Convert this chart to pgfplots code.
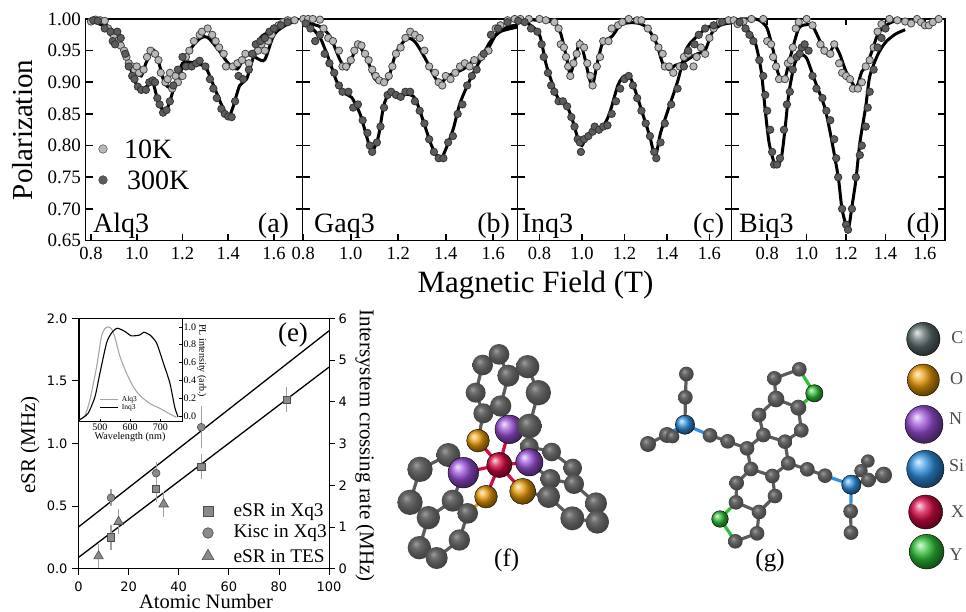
\documentclass[border=0pt]{standalone}
\usepackage{pgfplots}
\pgfplotsset{compat=1.18}
\usepackage{fontspec}
\setmainfont{Liberation Serif}
\newfontfamily\djv{DejaVu Sans}
\newcommand{\fs}[1]{\fontsize{#1}{#1}\selectfont}
\definecolor{cten}{HTML}{B8B8B8}
\definecolor{cthr}{HTML}{5C5C5C}
\definecolor{mk}{HTML}{8A8A8A}
\definecolor{bar}{HTML}{A0A0A0}
\definecolor{bg}{HTML}{5C5C5C}
\definecolor{bgt}{HTML}{5E6E6E}
\definecolor{bo}{HTML}{E89A08}
\definecolor{bn}{HTML}{9A50D8}
\definecolor{bs}{HTML}{3090E0}
\definecolor{bx}{HTML}{D80844}
\definecolor{by}{HTML}{30C038}
\pgfdeclareradialshading{greyball}{\pgfpoint{-8bp}{9bp}}{color(0bp)=(black!38!white); color(9bp)=(black!58!white); color(18bp)=(black!68!white); color(30bp)=(black!76!white); color(50bp)=(black!85!white)}
\pgfdeclareplotmark{gball}{\pgfpathcircle{\pgfpointorigin}{\pgfplotmarksize}\pgfshadepath{greyball}{0}\pgfusepath{discard}}
\pgfplotsset{
 panel/.style={scale only axis, height=221.5pt, ymin=.65, ymax=1,
  ytick={.65,.7,.75,.8,.85,.9,.95,1}, yticklabels={},
  xtick={.8,1,1.2,1.4,1.6}, xticklabels={0.8,1.0,1.2,1.4,1.6},
  xtick align=inside, ytick align=inside, major tick length=0pt,
  tick style={black, line width=1.3pt},
  axis line style={black, line width=1.5pt},
  xtick pos=bottom, ytick pos=both,
  clip=false,
  x tick label style={font=\fs{18.5}, yshift=-3.5pt},
  y tick label style={font=\fs{19}, xshift=-1pt},
  anchor=south west},
 dten/.style={only marks, mark=*, mark size=3.7pt, mark options={fill=cten, draw=black!72, line width=.8pt}},
 dthr/.style={only marks, mark=*, mark size=3.7pt, mark options={fill=cthr, draw=black!80, line width=.8pt}},
 fit/.style={no marks, smooth, tension=.45, black, line width=3pt},
 mol/.style={scale only axis, hide axis, clip=false, y dir=reverse, anchor=south west},
 ebar/.style={error bars/.cd, y dir=both, y explicit, error mark=none,
   error bar style={bar, line width=1.3pt}},
 b bg/.style={mark=gball}, b bgt/.style={mark=ball, ball color=bgt},
 b bo/.style={mark=ball, ball color=bo}, b bn/.style={mark=ball, ball color=bn},
 b bs/.style={mark=ball, ball color=bs}, b bx/.style={mark=ball, ball color=bx},
 b by/.style={mark=ball, ball color=by},
}
\newcommand{\B}[4]{\addplot[only marks, b #4, mark size=#3/3] coordinates {(#1,#2)};}
\newcommand{\Bd}[2]{\addplot[no marks, line width=3.2pt, color=#1] coordinates {#2};}
\newcommand{\pticks}[2]{%
 \pgfplotsinvokeforeach{.7,.75,.8,.85,.9,.95}{%
  \draw[black, line width=1.6pt] (axis cs:#1,##1) -- ++(7pt,0pt);
  \draw[black, line width=1.6pt] (axis cs:#2,##1) -- ++(-7pt,0pt);}%
 \pgfplotsinvokeforeach{.8,1,1.2,1.4,1.6}{%
  \draw[black, line width=1.6pt] (axis cs:##1,.65) -- ++(0pt,6pt);}%
}
\begin{document}
\begin{tikzpicture}[x=1pt,y=1pt]
\path[use as bounding box] (0,0) rectangle (966,612);
% ---------- (a)
\begin{axis}[panel, at={(85.5pt,371.5pt)}, width=217pt, xmin=.776, xmax=1.7246,
  yticklabels={0.65,0.70,0.75,0.80,0.85,0.90,0.95,1.00}]
\pticks{.776}{1.7246}
\addplot[dten] coordinates {(.80,.996)(.82,.999)(.84,.998)(.86,.997)(.875,.985)(.89,.978)(.90,.974)(.915,.965)(.93,.958)(.945,.95)(.955,.94)(.965,.93)(.98,.925)(.99,.92)(1.0,.925)(1.01,.915)(1.03,.92)(1.045,.94)(1.06,.95)(1.08,.945)(1.095,.935)(1.105,.915)(1.125,.90)(1.135,.905)(1.145,.915)(1.155,.89)(1.17,.91)(1.18,.90)(1.2,.91)(1.215,.94)(1.23,.95)(1.25,.965)(1.275,.975)(1.285,.98)(1.31,.985)(1.33,.975)(1.345,.965)(1.36,.955)(1.38,.945)(1.39,.925)(1.42,.925)(1.44,.93)(1.46,.935)(1.475,.945)(1.49,.93)(1.51,.945)(1.53,.95)(1.545,.96)(1.56,.95)(1.575,.965)(1.59,.975)(1.6,.985)(1.62,.99)(1.64,.995)(1.66,.998)(1.69,.998)};
\addplot[dthr] coordinates {(.81,.998)(.83,.997)(.86,.985)(.885,.98)(.895,.965)(.905,.96)(.915,.98)(.93,.97)(.95,.945)(.965,.925)(.98,.91)(.99,.905)(1.005,.893)(1.02,.888)(1.04,.888)(1.055,.90)(1.07,.903)(1.08,.90)(1.09,.875)(1.10,.865)(1.115,.852)(1.13,.856)(1.145,.87)(1.16,.895)(1.18,.92)(1.2,.94)(1.215,.925)(1.24,.925)(1.26,.93)(1.275,.934)(1.3,.925)(1.32,.905)(1.335,.89)(1.35,.875)(1.37,.858)(1.385,.85)(1.40,.846)(1.415,.845)(1.43,.87)(1.445,.91)(1.465,.905)(1.49,.92)(1.505,.945)(1.52,.96)(1.54,.965)(1.56,.97)(1.58,.98)(1.6,.985)(1.63,.99)(1.66,.995)};
\addplot[fit] coordinates {(.8,.998)(.85,.994)(.9,.98)(.93,.96)(.96,.935)(1.0,.915)(1.02,.91)(1.04,.93)(1.07,.951)(1.09,.94)(1.12,.90)(1.15,.891)(1.18,.90)(1.2,.925)(1.24,.955)(1.28,.97)(1.31,.971)(1.36,.95)(1.4,.93)(1.44,.921)(1.47,.94)(1.5,.944)(1.53,.937)(1.56,.936)(1.6,.975)(1.65,.99)(1.7,.997)};
\addplot[fit] coordinates {(.8,.997)(.85,.99)(.9,.98)(.93,.965)(.96,.935)(1.0,.895)(1.02,.889)(1.05,.895)(1.07,.90)(1.09,.875)(1.12,.852)(1.14,.865)(1.17,.90)(1.2,.93)(1.23,.932)(1.27,.928)(1.3,.925)(1.33,.90)(1.37,.865)(1.40,.845)(1.42,.86)(1.45,.895)(1.48,.905)(1.51,.94)(1.54,.97)(1.58,.98)(1.62,.99)(1.7,.997)};
\addplot[only marks, mark=*, mark size=4.3pt, mark options={fill=cten, draw=black!60, line width=.6pt}] coordinates {(.8525,.7946)};
\addplot[only marks, mark=*, mark size=4.3pt, mark options={fill=cthr, draw=black!70, line width=.6pt}] coordinates {(.8525,.7456)};
\end{axis}
% ---------- (b)
\begin{axis}[panel, at={(302.5pt,371.5pt)}, width=215pt, xmin=.7966, xmax=1.702]
\pticks{.7966}{1.702}
\addplot[dten] coordinates {(.80,1.0)(.82,1.0)(.84,1.0)(.87,.999)(.885,.985)(.905,.97)(.925,.965)(.95,.95)(.965,.925)(.98,.925)(1.0,.935)(1.015,.95)(1.03,.96)(1.045,.958)(1.06,.945)(1.075,.935)(1.09,.92)(1.105,.91)(1.12,.903)(1.14,.90)(1.16,.91)(1.175,.925)(1.19,.945)(1.21,.955)(1.23,.97)(1.25,.98)(1.27,.975)(1.29,.97)(1.31,.95)(1.33,.925)(1.355,.915)(1.37,.90)(1.385,.895)(1.4,.91)(1.42,.905)(1.44,.915)(1.46,.925)(1.48,.93)(1.5,.925)(1.52,.935)(1.55,.94)(1.58,.95)(1.61,.985)(1.63,.99)(1.66,.998)(1.69,1.0)};
\addplot[dthr] coordinates {(.81,.993)(.83,.985)(.85,.965)(.87,.975)(.89,.945)(.91,.93)(.93,.915)(.95,.895)(.965,.885)(.99,.885)(1.01,.86)(1.03,.865)(1.05,.84)(1.07,.82)(1.08,.80)(1.09,.79)(1.11,.805)(1.125,.83)(1.14,.86)(1.155,.88)(1.17,.885)(1.19,.88)(1.21,.877)(1.23,.885)(1.25,.885)(1.27,.87)(1.29,.855)(1.31,.835)(1.33,.81)(1.35,.79)(1.37,.78)(1.39,.78)(1.41,.805)(1.43,.815)(1.45,.85)(1.47,.865)(1.49,.895)(1.51,.91)(1.53,.92)(1.56,.945)(1.59,.975)(1.62,.985)(1.66,.995)};
\addplot[fit] coordinates {(.8,.995)(.87,.988)(.913,.972)(.955,.935)(.983,.921)(1.01,.943)(1.03,.959)(1.067,.938)(1.10,.906)(1.13,.90)(1.158,.906)(1.19,.946)(1.235,.969)(1.27,.964)(1.313,.938)(1.348,.912)(1.376,.898)(1.41,.91)(1.475,.921)(1.516,.934)(1.55,.936)(1.587,.959)(1.615,.977)(1.664,.988)(1.70,.99)};
\addplot[fit] coordinates {(.8,.99)(.83,.987)(.87,.971)(.906,.938)(.941,.901)(.976,.882)(1.004,.876)(1.04,.849)(1.067,.814)(1.088,.79)(1.116,.814)(1.138,.862)(1.158,.88)(1.187,.88)(1.207,.877)(1.236,.881)(1.27,.875)(1.306,.838)(1.34,.80)(1.376,.778)(1.404,.798)(1.432,.827)(1.46,.867)(1.502,.904)(1.545,.935)(1.587,.964)(1.63,.98)(1.70,.987)};
\end{axis}
% ---------- (c)
\begin{axis}[panel, at={(517.5pt,371.5pt)}, width=214.2pt, xmin=.6965, xmax=1.705]
\pticks{.6965}{1.705}
\addplot[dten] coordinates {(.71,1.0)(.75,1.0)(.80,1.0)(.83,.998)(.87,.995)(.89,.985)(.90,.96)(.915,.955)(.925,.94)(.935,.925)(.945,.91)(.96,.93)(.975,.945)(.99,.96)(1.01,.955)(1.025,.93)(1.04,.91)(1.05,.895)(1.07,.925)(1.085,.94)(1.10,.965)(1.125,.965)(1.14,.985)(1.17,.99)(1.19,.995)(1.22,1.0)(1.26,.998)(1.28,.998)(1.31,.985)(1.34,.97)(1.36,.955)(1.38,.945)(1.39,.925)(1.41,.925)(1.43,.915)(1.46,.925)(1.48,.94)(1.5,.945)(1.525,.925)(1.54,.94)(1.56,.955)(1.58,.945)(1.6,.97)(1.62,.985)(1.65,.995)(1.69,.998)};
\addplot[dthr] coordinates {(.70,.997)(.73,.995)(.76,.985)(.79,.98)(.81,.96)(.82,.94)(.84,.915)(.855,.895)(.87,.885)(.89,.87)(.91,.87)(.93,.862)(.95,.845)(.965,.83)(.98,.81)(.99,.805)(.995,.79)(1.01,.81)(1.03,.815)(1.05,.822)(1.06,.83)(1.08,.825)(1.1,.83)(1.12,.832)(1.14,.85)(1.16,.87)(1.18,.89)(1.2,.905)(1.22,.91)(1.24,.895)(1.26,.875)(1.28,.855)(1.3,.835)(1.32,.815)(1.34,.79)(1.35,.78)(1.37,.805)(1.39,.835)(1.42,.865)(1.45,.89)(1.48,.925)(1.5,.95)(1.53,.96)(1.55,.975)(1.58,.985)(1.62,.99)(1.66,.995)};
\addplot[fit] coordinates {(.70,.999)(.8,.998)(.87,.994)(.9,.977)(.93,.935)(.945,.913)(.97,.94)(.99,.964)(1.01,.943)(1.035,.906)(1.05,.895)(1.075,.935)(1.10,.964)(1.14,.972)(1.18,.99)(1.22,.994)(1.27,.993)(1.31,.985)(1.35,.962)(1.38,.93)(1.41,.92)(1.44,.927)(1.47,.93)(1.53,.943)(1.58,.951)(1.61,.977)(1.65,.99)(1.7,.994)};
\addplot[fit] coordinates {(.70,.996)(.75,.992)(.8,.975)(.83,.93)(.86,.898)(.89,.873)(.92,.868)(.95,.846)(.98,.812)(1.0,.80)(1.02,.814)(1.06,.825)(1.1,.831)(1.13,.851)(1.17,.896)(1.2,.91)(1.23,.906)(1.27,.867)(1.3,.835)(1.32,.814)(1.345,.783)(1.37,.82)(1.4,.851)(1.45,.901)(1.49,.951)(1.53,.969)(1.6,.988)(1.7,.994)};
\end{axis}
% ---------- (d)
\begin{axis}[panel, at={(731.7pt,371.5pt)}, width=213.3pt, xmin=.62, xmax=1.702]
\pticks{.62}{1.702}
\pgfplotsinvokeforeach{.8,1,1.2,1.4,1.6}{\draw[black, line width=1.6pt] (axis cs:#1,1) -- ++(0pt,-6pt);}
\addplot[dten] coordinates {(.63,.998)(.65,.992)(.68,.996)(.72,1.0)(.78,1.0)(.80,.965)(.82,.96)(.83,.94)(.845,.925)(.86,.905)(.89,.905)(.905,.93)(.92,.935)(.93,.955)(.945,.985)(.96,.995)(1.0,1.0)(1.03,.99)(1.07,.96)(1.09,.95)(1.12,.945)(1.14,.96)(1.165,.93)(1.18,.915)(1.2,.91)(1.22,.905)(1.235,.89)(1.26,.89)(1.28,.90)(1.3,.925)(1.32,.935)(1.34,.955)(1.36,.98)(1.38,.992)(1.42,1.0)(1.46,.998)(1.5,.996)(1.53,.993)(1.56,1.0)(1.58,.995)(1.6,.99)(1.62,.99)(1.64,.995)(1.67,1.0)};
\addplot[dthr] coordinates {(.66,.995)(.69,.985)(.71,.975)(.73,.965)(.76,.935)(.78,.91)(.79,.88)(.8,.855)(.815,.825)(.825,.79)(.835,.77)(.85,.77)(.865,.78)(.885,.825)(.90,.865)(.915,.885)(.93,.92)(.95,.94)(.965,.945)(.975,.955)(.99,.96)(1.01,.95)(1.03,.91)(1.05,.89)(1.08,.875)(1.1,.855)(1.12,.84)(1.14,.81)(1.15,.78)(1.16,.75)(1.18,.70)(1.2,.675)(1.21,.667)(1.23,.70)(1.25,.75)(1.27,.785)(1.28,.80)(1.3,.83)(1.31,.86)(1.32,.885)(1.34,.92)(1.36,.955)(1.38,.97)(1.40,.985)};
\addplot[fit] coordinates {(.66,1.0)(.74,1.0)(.77,.996)(.8,.985)(.83,.951)(.85,.92)(.87,.904)(.89,.906)(.92,.943)(.96,.985)(1.0,.991)(1.03,.989)(1.07,.964)(1.11,.943)(1.14,.959)(1.17,.943)(1.2,.917)(1.25,.892)(1.28,.917)(1.31,.93)(1.36,.975)(1.4,.989)(1.44,.996)(1.5,.998)};
\addplot[fit] coordinates {(.66,.998)(.7,.983)(.74,.962)(.77,.917)(.79,.856)(.81,.804)(.84,.77)(.87,.778)(.89,.825)(.91,.883)(.94,.93)(.97,.943)(1.0,.938)(1.04,.904)(1.09,.862)(1.12,.82)(1.16,.751)(1.18,.699)(1.21,.668)(1.23,.704)(1.25,.746)(1.27,.804)(1.3,.862)(1.32,.909)(1.36,.943)(1.4,.963)(1.45,.976)(1.5,.983)};
\end{axis}
% texts of the top row
\node[font=\fs{31}, anchor=center] at (535.5pt,327pt) {Magnetic Field (T)};
\node[font=\fs{29}, anchor=center, rotate=90] at (23pt,482pt) {Polarization};
\node[font=\fs{28}, anchor=base west, inner sep=0] at (124pt,453.5pt) {10K};
\node[font=\fs{28}, anchor=base west, inner sep=0] at (127pt,422pt) {300K};
\node[font=\fs{28}, anchor=base west, inner sep=0] at (93pt,379pt) {Alq3};
\node[font=\fs{28}, anchor=base, inner sep=0] at (273.5pt,379pt) {(a)};
\node[font=\fs{28}, anchor=base west, inner sep=0] at (314pt,379pt) {Gaq3};
\node[font=\fs{28}, anchor=base, inner sep=0] at (493.7pt,379pt) {(b)};
\node[font=\fs{28}, anchor=base west, inner sep=0] at (521.7pt,379pt) {Inq3};
\node[font=\fs{28}, anchor=base, inner sep=0] at (708.7pt,379pt) {(c)};
\node[font=\fs{28}, anchor=base west, inner sep=0] at (739pt,379pt) {Biq3};
\node[font=\fs{28}, anchor=base, inner sep=0] at (923pt,379pt) {(d)};
% ---------- (e) left scale
\begin{axis}[scale only axis, at={(78.5pt,43.3pt)}, anchor=south west, width=250.5pt, height=250.4pt,
  xmin=0, xmax=100, ymin=0, ymax=2,
  xtick={0,20,40,60,80,100}, ytick={0,.5,1,1.5,2},
  yticklabels={0.0,0.5,1.0,1.5,2.0}, xticklabels={0,20,40,60,80,100},
  xtick pos=bottom, ytick pos=left, tick align=outside,
  major tick length=6pt, tick style={black, line width=.8pt},
  axis line style={black, line width=1pt},
  y tick label style={font=\djv\fs{13}, xshift=-1.5pt},
  x tick label style={font=\djv\fs{13}, yshift=-3.5pt}, clip=false]
\addplot[black, line width=1.3pt] coordinates {(0,.09)(100,1.61)};
\addplot[mark=square*, only marks, mark size=3.6pt, mark options={fill=mk, draw=black!70, line width=.6pt}, ebar] coordinates {(13,.25)+-(0,.1)(31,.635)+-(0,.1)(49,.815)+-(0,.1)(83,1.35)+-(0,.1)};
\addplot[mark=triangle*, only marks, mark size=5.5pt, mark options={fill=mk, draw=black!70, line width=.6pt}, ebar] coordinates {(8,.1)+-(0,.1)(16,.375)+-(0,.1)(34,.515)+-(0,.1)};
\addplot[mark=square*, only marks, mark size=5pt, mark options={fill=mk, draw=black!70, line width=.6pt}] coordinates {(51.7,.455)};
\addplot[mark=*, only marks, mark size=5.3pt, mark options={fill=mk, draw=black!70, line width=.6pt}] coordinates {(51.7,.285)};
\addplot[mark=triangle*, only marks, mark size=6.8pt, mark options={fill=mk, draw=black!70, line width=.6pt}] coordinates {(51.7,.10)};
\end{axis}
% ---------- (e) right scale
\begin{axis}[scale only axis, at={(78.5pt,43.3pt)}, anchor=south west, width=250.5pt, height=250.4pt,
  xmin=0, xmax=100, ymin=0, ymax=6,
  xtick=\empty, ytick={0,1,2,3,4,5,6}, yticklabels={0,1,2,3,4,5,6},
  ytick pos=right, yticklabel pos=right, tick align=outside,
  major tick length=6pt, tick style={black, line width=.8pt},
  axis line style={black, line width=1pt},
  tick label style={font=\djv\fs{13}}, clip=false]
\addplot[black, line width=1.3pt] coordinates {(0,1.0)(100,5.7)};
\addplot[mark=*, only marks, mark size=3.9pt, mark options={fill=mk, draw=black!70, line width=.6pt}, ebar] coordinates {(13,1.7)+-(0,.2)(31,2.29)+-(0,.27)(49,3.39)+-(0,.5)};
\end{axis}
% ---------- inset
\begin{axis}[scale only axis, at={(79pt,190.3pt)}, anchor=south west, width=103pt, height=103.4pt,
  axis background/.style={fill=white},
  xmin=431, xmax=771, ymin=-.064, ymax=1.097,
  xtick={500,600,700}, xticklabels={500,600,700},
  ytick={0,.2,.4,.6,.8,1}, yticklabels={0.0,0.2,0.4,0.6,0.8,1.0},
  xtick pos=bottom, ytick pos=right, yticklabel pos=right, xtick align=inside, ytick align=inside,
  major tick length=0pt, tick style={black, line width=.6pt},
  axis line style={black, line width=.9pt},
  tick label style={font=\fs{10}, inner sep=1.5pt}]
\pgfplotsinvokeforeach{0,.2,.4,.6,.8,1}{\draw[black, line width=.6pt] (axis cs:771,#1) -- ++(-3pt,0pt);}
\pgfplotsinvokeforeach{500,600,700}{\draw[black, line width=.6pt] (axis cs:#1,-.064) -- ++(0pt,3pt);}
\addplot[smooth, tension=.4, color=black!35, line width=1.1pt] coordinates {(434,-.04)(450,.0)(467,.18)(489,.55)(505,.89)(516,.98)(527,1.0)(538,.98)(549,.89)(566,.67)(588,.48)(610,.33)(632,.23)(665,.14)(698,.086)(731,.022)(753,-.015)};
\addplot[smooth, tension=.4, black, line width=1.1pt] coordinates {(434,-.04)(461,.03)(484,.22)(500,.48)(522,.82)(538,.93)(557,.985)(582,.95)(604,.90)(632,.91)(645,.94)(665,.91)(687,.82)(709,.60)(731,.37)(747,.10)(758,-.01)};
\addplot[color=black!35, line width=1.1pt] coordinates {(501,.185)(560,.185)};
\addplot[black, line width=1.1pt] coordinates {(501,.095)(560,.095)};
\node[font=\fs{7.5}, anchor=west, inner sep=0] at (axis cs:572,.185) {Alq3};
\node[font=\fs{7.5}, anchor=west, inner sep=0] at (axis cs:572,.095) {Inq3};
\end{axis}
\node[font=\fs{10.2}] at (130pt,174.5pt) {Wavelength (nm)};
\node[font=\fs{10}, rotate=-90] at (201.7pt,251.3pt) {PL intensity (arb.)};
\node[font=\fs{21}, rotate=90] at (30pt,167pt) {eSR (MHz)};
\node[font=\fs{21}, rotate=-90] at (365pt,166.3pt) {Intersystem crossing rate (MHz)};
\node[font=\fs{20.5}, inner sep=0] at (206pt,10.3pt) {Atomic Number};
\node[font=\fs{27}] at (293pt,277pt) {(e)};
\node[font=\fs{19.3}, anchor=west, inner sep=0] at (233.3pt,100.3pt) {eSR in Xq3};
\node[font=\fs{19.3}, anchor=west, inner sep=0] at (233.3pt,79pt) {Kisc in Xq3};
\node[font=\fs{19.3}, anchor=west, inner sep=0] at (233.3pt,56pt) {eSR in TES};
% ---------- (f)
\begin{axis}[mol, at={(390pt,0pt)}, width=280pt, height=282pt, xmin=0, xmax=840, ymin=0, ymax=846]
\Bd{bg}{(327,73)(278,105)(257,188)(280,250)(332,228)(355,137)(327,73)}
\Bd{bg}{(355,137)(413,110)(445,188)(418,288)}
\Bd{bg}{(332,228)(358,298)}
\Bd{bg}{(280,250)(264,332)}
\Bd{bg}{(418,350)(485,366)(548,414)(552,462)(481,447)(418,397)}
\Bd{bg}{(481,447)(476,500)(398,484)}
\Bd{bg}{(476,500)(547,565)(622,576)(618,520)(552,462)}
\Bd{bg}{(220,428)(175,375)(90,418)(60,517)(115,563)(188,512)(220,428)}
\Bd{bg}{(188,512)(233,550)(208,630)(140,684)(88,653)(115,563)}
\Bd{bo}{(233,550)(288,500)}
\Bd{bx}{(264,332)(328,405)(358,298)}
\Bd{bx}{(418,397)(328,405)(220,428)}
\Bd{bx}{(288,500)(328,405)(398,484)}
\B{327}{73}{31}{bg}\B{278}{105}{31}{bg}\B{355}{137}{33}{bg}\B{413}{110}{35}{bg}\B{445}{188}{38}{bg}
\B{257}{188}{30}{bg}\B{280}{250}{30}{bg}\B{332}{228}{32}{bg}
\B{358}{298}{43}{bn}\B{418}{288}{37}{bg}\B{264}{332}{34}{bo}
\B{418}{350}{28}{bg}\B{485}{366}{28}{bg}\B{418}{397}{41}{bn}\B{548}{414}{28}{bg}\B{481}{447}{30}{bg}\B{552}{462}{30}{bg}
\B{618}{520}{33}{bg}\B{622}{576}{35}{bg}\B{547}{565}{36}{bg}\B{476}{500}{34}{bg}\B{398}{484}{39}{bo}
\B{328}{405}{38}{bx}\B{288}{500}{34}{bo}\B{175}{375}{36}{bg}\B{220}{428}{46}{bn}\B{90}{418}{38}{bg}\B{60}{517}{38}{bg}
\B{188}{512}{33}{bg}\B{233}{550}{31}{bg}\B{115}{563}{35}{bg}\B{208}{630}{32}{bg}\B{88}{653}{35}{bg}\B{140}{684}{33}{bg}
\node[font=\fs{25}] at (axis cs:350,690) {(f)};
\end{axis}
% ---------- (g)
\begin{axis}[mol, at={(660pt,0pt)}, width=306pt, height=302pt, xmin=0, xmax=918, ymin=0, ymax=906]
\Bd{bg}{(79,192)(76,262)(75,344)}
\Bd{bs}{(75,344)(150,376)}
\Bd{bg}{(150,376)(203,394)(261,415)(310,375)(297,315)(348,267)(343,205)(418,178)}
\Bd{bg}{(415,293)(348,267)}
\Bd{by}{(418,178)(463,250)(415,293)}
\Bd{bg}{(415,293)(424,361)(375,395)(310,375)}
\Bd{bg}{(375,395)(385,460)(337,498)(273,477)(261,415)}
\Bd{bg}{(337,498)(345,558)(297,606)(228,577)(230,519)(273,477)}
\Bd{by}{(228,577)(180,627)(226,694)}
\Bd{bg}{(226,694)(291,670)(297,606)}
\Bd{bg}{(385,460)(442,478)(495,497)}
\Bd{bs}{(495,497)(574,524)(572,604)}
\Bd{bg}{(572,604)(573,668)}
\Bd{bg}{(574,524)(625,510)(671,495)}
\Bd{bg}{(574,524)(603,482)(624,453)}
\Bd{bs}{(75,344)(18,375)}
\Bd{bg}{(18,375)(-36,402)}
\Bd{bg}{(75,344)(38,380)}
\B{79}{192}{22}{bg}\B{76}{262}{22}{bg}\B{-36}{402}{24}{bg}\B{21}{375}{24}{bg}\B{38}{380}{20}{bg}\B{75}{344}{29}{bs}
\B{150}{376}{22}{bg}\B{203}{394}{22}{bg}\B{261}{415}{22}{bg}\B{310}{375}{22}{bg}\B{297}{315}{22}{bg}
\B{348}{267}{25}{bg}\B{343}{205}{22}{bg}\B{418}{178}{22}{bg}\B{463}{250}{26}{by}\B{415}{293}{24}{bg}\B{424}{361}{22}{bg}\B{375}{395}{22}{bg}
\B{385}{460}{22}{bg}\B{337}{498}{22}{bg}\B{273}{477}{22}{bg}\B{345}{558}{22}{bg}\B{297}{606}{22}{bg}\B{230}{519}{22}{bg}\B{228}{577}{22}{bg}
\B{180}{627}{25}{by}\B{226}{694}{22}{bg}\B{291}{670}{22}{bg}\B{442}{478}{22}{bg}\B{495}{497}{22}{bg}
\B{624}{453}{20}{bg}\B{603}{482}{20}{bg}\B{574}{524}{29}{bs}\B{625}{510}{22}{bg}\B{671}{495}{25}{bg}\B{572}{604}{22}{bg}\B{573}{668}{22}{bg}
\B{790}{87}{50}{bgt}\B{790}{210}{48}{bo}\B{792}{343}{57}{bn}\B{796}{477}{56}{bs}\B{797}{606}{51}{bx}\B{800}{725}{52}{by}
\node[font=\fs{25}] at (axis cs:330,752) {(g)};
\node[font=\fs{18}, text=black!70] at (axis cs:892,82) {C};
\node[font=\fs{18}, text=black!70] at (axis cs:890,207) {O};
\node[font=\fs{18}, text=black!70] at (axis cs:887,327) {N};
\node[font=\fs{18}, text=black!70] at (axis cs:890,467) {Si};
\node[font=\fs{18}, text=black!70] at (axis cs:893,605) {X};
\node[font=\fs{18}, text=black!70] at (axis cs:888,733) {Y};
\end{axis}
\end{tikzpicture}
\end{document}
